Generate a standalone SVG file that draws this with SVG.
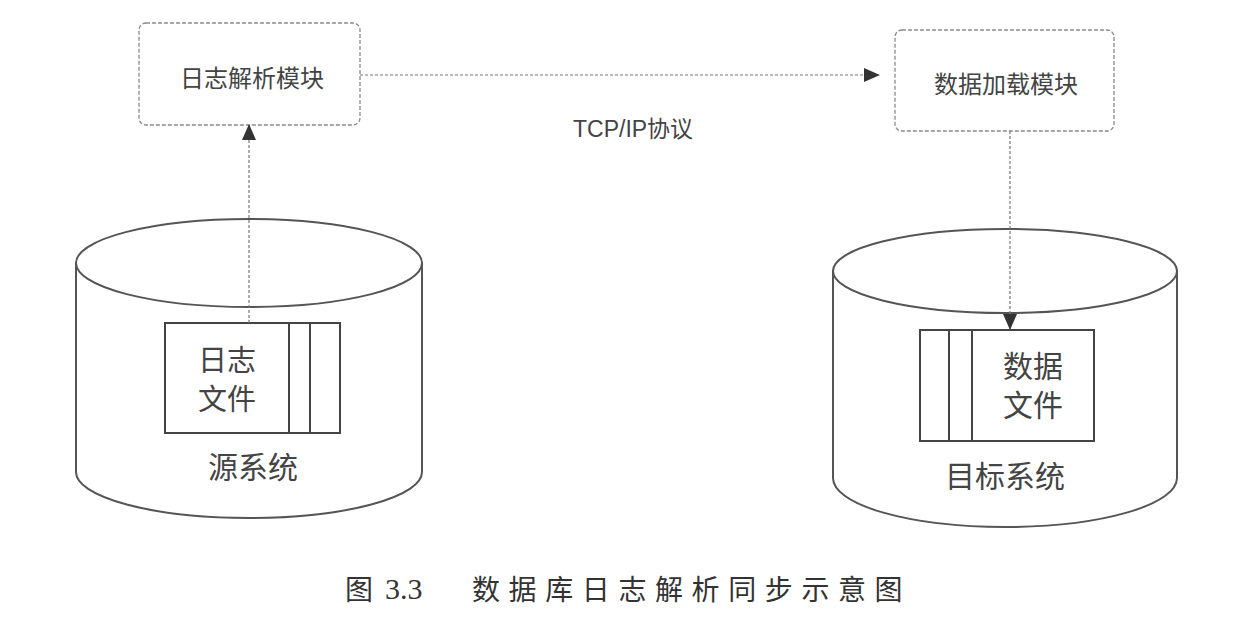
<svg xmlns="http://www.w3.org/2000/svg" width="1242" height="637" viewBox="0 0 1242 637">
<defs>
<style>
.box{fill:#fff;stroke:#8a8a8a;stroke-width:1.3;stroke-dasharray:4 2}
.cyl{fill:#fff;stroke:#555;stroke-width:2}
.file{fill:#fff;stroke:#444;stroke-width:2}
.conn{fill:none;stroke:#777;stroke-width:1.2;stroke-dasharray:3 2}
.lbl{font-family:"Liberation Sans","Noto Sans CJK SC",sans-serif;fill:#444;text-anchor:middle}
.cap{font-family:"Liberation Serif","Noto Sans CJK SC",serif;fill:#333}
</style>
<marker id="ah" viewBox="0 0 16 14" refX="16" refY="7" markerWidth="16" markerHeight="14" markerUnits="userSpaceOnUse" orient="auto">
<path d="M0 0 L16 7 L0 14 Z" fill="#333"/>
</marker>
</defs>
<rect width="1242" height="637" fill="#fff"/>

<g id="node-log-parser">
<rect class="box" x="139" y="23" width="221" height="102" rx="7"/>
<text class="lbl" x="252" y="87" font-size="24">日志解析模块</text>
</g>

<g id="node-data-loader">
<rect class="box" x="895" y="30" width="219" height="101" rx="7"/>
<text class="lbl" x="1006" y="93" font-size="24">数据加载模块</text>
</g>

<g id="node-source">
<path class="cyl" d="M76 262 L76 472 A173 46 0 0 0 422 472 L422 262"/>
<ellipse class="cyl" cx="249" cy="263" rx="173" ry="44"/>
<rect class="file" x="165" y="323" width="175" height="110"/>
<line class="file" x1="289" y1="323" x2="289" y2="433"/>
<line class="file" x1="310" y1="323" x2="310" y2="433"/>
<text class="lbl" x="227" y="371" font-size="29">日志</text>
<text class="lbl" x="227" y="410" font-size="29">文件</text>
<text class="lbl" x="253" y="478" font-size="30">源系统</text>
</g>

<g id="node-target">
<path class="cyl" d="M833 270 L833 478 A172 49 0 0 0 1177 478 L1177 270"/>
<ellipse class="cyl" cx="1005" cy="271" rx="172" ry="42"/>
<rect class="file" x="920" y="330" width="174" height="111"/>
<line class="file" x1="949" y1="330" x2="949" y2="441"/>
<line class="file" x1="972" y1="330" x2="972" y2="441"/>
<text class="lbl" x="1033" y="377" font-size="30">数据</text>
<text class="lbl" x="1033" y="416" font-size="30">文件</text>
<text class="lbl" x="1005" y="487" font-size="30">目标系统</text>
</g>

<g id="connectors">
<line class="conn" x1="249" y1="323" x2="249" y2="124" marker-end="url(#ah)"/>
<line class="conn" x1="360" y1="75" x2="880" y2="75" marker-end="url(#ah)"/>
<line class="conn" x1="1010" y1="131" x2="1010" y2="330" marker-end="url(#ah)"/>
<text x="573" y="137" font-size="23" font-family="Liberation Sans, Noto Sans CJK SC, sans-serif" fill="#444">TCP/IP协议</text>
</g>

<g id="caption">
<text class="cap" x="345" y="600" font-size="28">图</text>
<text class="cap" x="385" y="599" font-size="30">3.3</text>
<text class="cap" x="472" y="600" font-size="28" letter-spacing="8.6">数据库日志解析同步示意图</text>
</g>
</svg>
